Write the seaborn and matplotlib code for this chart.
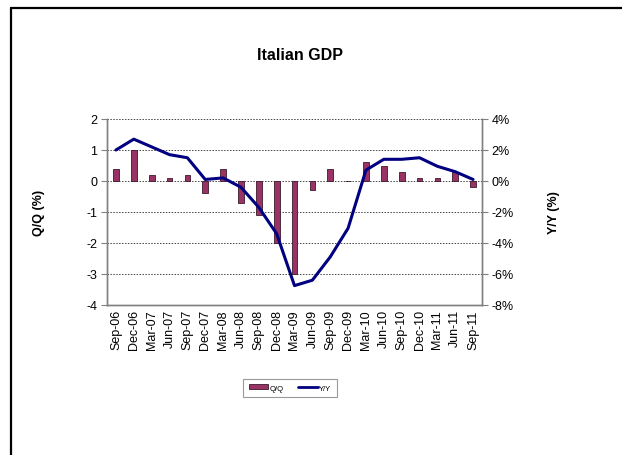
import numpy as np
import pandas as pd
import matplotlib
matplotlib.use("Agg")
import matplotlib.pyplot as plt
from matplotlib.lines import Line2D
from matplotlib.patches import Patch
import seaborn as sns

# Quarterly data
quarters = ["Sep-06", "Dec-06", "Mar-07", "Jun-07", "Sep-07", "Dec-07", "Mar-08",
            "Jun-08", "Sep-08", "Dec-08", "Mar-09", "Jun-09", "Sep-09", "Dec-09",
            "Mar-10", "Jun-10", "Sep-10", "Dec-10", "Mar-11", "Jun-11", "Sep-11"]
qq = [0.4, 1.0, 0.2, 0.1, 0.2, -0.4, 0.4, -0.7, -1.1, -2.0, -3.0, -0.3, 0.4, 0.0,
      0.6, 0.5, 0.3, 0.1, 0.1, 0.3, -0.2]
yy = [2.0, 2.7, 2.2, 1.7, 1.5, 0.1, 0.2, -0.4, -1.7, -3.4, -6.75, -6.4, -4.9, -3.05,
      0.7, 1.4, 1.4, 1.5, 0.95, 0.6, 0.1]

left_ticks = [2, 1, 0, -1, -2, -3, -4]
right_ticks = [4, 2, 0, -2, -4, -6, -8]

df = pd.DataFrame({"quarter": quarters, "qq": qq, "yy": yy, "pos": np.arange(len(quarters))})

bar_color = "#993366"
line_color = "#000080"

sns.set_style("white")
plt.rcParams["font.family"] = ["Liberation Sans", "DejaVu Sans"]
plt.rcParams["text.color"] = "black"
plt.rcParams["axes.labelcolor"] = "black"
plt.rcParams["xtick.color"] = "black"
plt.rcParams["ytick.color"] = "black"

W, H = 622, 456
fig = plt.figure(figsize=(W / 100, H / 100), dpi=100)
ax = fig.add_axes([107 / W, 150 / H, 375 / W, 186 / H])

sns.barplot(data=df, x="quarter", y="qq", color=bar_color, width=0.32,
            edgecolor="#3a1a2a", linewidth=0.6, saturation=1, ax=ax, zorder=3)
ax.set_xlim(-0.5, len(quarters) - 0.5)
ax.set_ylim(-4, 2)
ax.set_yticks(left_ticks)
ax.set_yticklabels([str(t) for t in left_ticks], fontsize=9)
ax.grid(axis="y", linestyle=(0, (1.5, 1.5)), color="#444444", linewidth=0.7, zorder=0)
ax.set_axisbelow(True)
ax.tick_params(axis="x", labelrotation=90, labelsize=9, length=0, pad=3, labelcolor="black")
ax.tick_params(axis="y", direction="out", length=4, width=0.8, color="#808080", pad=3,
               left=True, labelcolor="black")
ax.spines["top"].set_visible(False)
for side in ["left", "bottom", "right"]:
    ax.spines[side].set_color("#808080")
    ax.spines[side].set_linewidth(1)
ax.set_xlabel("")
ax.set_ylabel("Q/Q (%)", fontsize=9, fontweight="bold", color="black")
ax.yaxis.set_label_coords(-62 / 375, 0.5)

ax2 = ax.twinx()
sns.lineplot(data=df, x="pos", y="yy", color=line_color, linewidth=2.2, ax=ax2, zorder=4)
ax2.set_xlim(-0.5, len(quarters) - 0.5)
ax2.set_ylim(-8, 4)
ax2.set_yticks(right_ticks)
ax2.set_yticklabels([f"{t}%" for t in right_ticks], fontsize=9)
ax2.tick_params(axis="y", direction="out", length=4, width=0.8, color="#808080", pad=3,
                right=True, labelcolor="black")
ax2.spines["top"].set_visible(False)
for side in ["left", "bottom", "right"]:
    ax2.spines[side].set_color("#808080")
    ax2.spines[side].set_linewidth(1)
ax2.set_ylabel("Y/Y (%)", fontsize=9, fontweight="bold", rotation=90, color="black")
ax2.yaxis.set_label_coords(1 + 66 / 375, 0.5)
ax2.set_xlabel("")

fig.text(300 / W, 1 - 55 / H, "Italian GDP", ha="center", va="center",
         fontsize=11.5, fontweight="bold", color="black")

handles = [Patch(facecolor=bar_color, edgecolor="#3a1a2a", linewidth=0.6, label="Q/Q"),
           Line2D([0], [0], color=line_color, linewidth=2, label="Y/Y")]
leg = fig.legend(handles=handles, loc="center", bbox_to_anchor=(290 / W, 1 - 389 / H),
                 ncol=2, fontsize=5.5, frameon=True, fancybox=False, edgecolor="#808080",
                 handlelength=2.6, handleheight=0.6, columnspacing=1.8, handletextpad=0.2,
                 borderpad=0.7)
leg.get_frame().set_linewidth(0.8)

# Chart area border (top and left edges)
fig.add_artist(Line2D([11 / W, 1], [1 - 9 / H, 1 - 9 / H], color="black", linewidth=1.6,
                      transform=fig.transFigure))
fig.add_artist(Line2D([11 / W, 11 / W], [0, 1 - 9 / H], color="black", linewidth=1.6,
                      transform=fig.transFigure))

fig.savefig("out.png", dpi=100)
